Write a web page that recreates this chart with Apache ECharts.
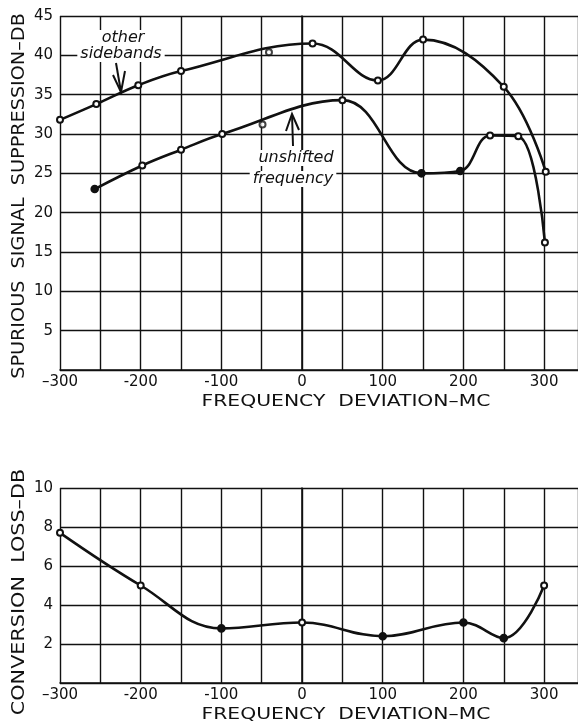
<!DOCTYPE html>
<html>
<head>
<meta charset="utf-8">
<script src="https://cdn.jsdelivr.net/npm/echarts@6/dist/echarts.min.js"></script>
<style>
  html, body { margin: 0; padding: 0; background: #fff; }
  #chart { width: 578px; height: 724px; }
</style>
</head>
<body>
<div id="chart"></div>
<script>
// spurious signal suppression, "other sidebands" curve
const sidebandFreq = [-300, -255, -203, -150, 13, 94, 150, 250, 302];
const sidebandDb = [31.8, 33.8, 36.2, 38.0, 41.5, 36.8, 42.0, 36.0, 25.2];
// "unshifted frequency" curve
const unshiftedFreq = [-257, -198, -150, -99, 50, 148, 196, 233, 268, 301];
const unshiftedDb = [23.0, 26.0, 28.0, 30.0, 34.3, 25.0, 25.3, 29.8, 29.7, 16.2];
// measured points lying off the drawn curves
const strayFreq = [-41, -49];
const strayDb = [40.4, 31.2];
// conversion loss
const lossFreq = [-300, -200, -100, 0, 100, 200, 250, 300];
const lossDb = [7.7, 5.0, 2.8, 3.1, 2.4, 3.1, 2.3, 5.0];

const freqTicks = [-300, -200, -100, 0, 100, 200, 300];
const freqTickText = ['\u2013300', '-200', '-100', '0', '100', '200', '300'];
const suppTicks = [5, 10, 15, 20, 25, 30, 35, 40, 45];
const lossTicks = [2, 4, 6, 8, 10];

const ink = '#111';
const font = 'DejaVu Sans';

const pairs = (xs, ys) => xs.map((x, i) => [x, ys[i]]);

// which measured points are drawn as solid dots
const filledUnshifted = [0, 5, 6];
const filledLoss = [2, 4, 5, 6];
const markData = (xs, ys, filled) => pairs(xs, ys).map((p, i) =>
  filled.indexOf(i) >= 0 ? { value: p, symbol: 'circle', symbolSize: 7 } : p);

const chart = echarts.init(document.getElementById('chart'));

function xAxisOf(gridIndex) {
  return {
    type: 'value', gridIndex: gridIndex, min: -300, max: 342, interval: 50,
    axisLine: { show: true, onZero: false, lineStyle: { color: ink, width: 1.6 } },
    axisTick: { show: false },
    splitLine: { show: true, lineStyle: { color: ink, width: 1.4 } },
    axisLabel: {
      color: ink, fontFamily: font, fontSize: 15, margin: 5,
      showMaxLabel: false,
      formatter: v => {
        const k = freqTicks.indexOf(v);
        return k >= 0 ? freqTickText[k] : '';
      }
    }
  };
}

function yAxisOf(gridIndex, max, interval, ticks) {
  return {
    type: 'value', gridIndex: gridIndex, min: 0, max: max, interval: interval,
    axisLine: { show: true, lineStyle: { color: ink, width: 1.6 } },
    axisTick: { show: false },
    splitLine: { show: true, lineStyle: { color: ink, width: 1.4 } },
    axisLabel: {
      color: ink, fontFamily: font, fontSize: 15, margin: 7,
      formatter: v => ticks.indexOf(v) >= 0 ? String(v) : ''
    }
  };
}

const dotStyle = { color: ink, borderColor: ink, borderWidth: 1.6 };

const curve = (name, xi, data) => ({
  name: name, type: 'line', xAxisIndex: xi, yAxisIndex: xi,
  data: data, smooth: 0.4,
  symbol: 'emptyCircle', symbolSize: 6,
  lineStyle: { color: ink, width: 2.6 },
  itemStyle: dotStyle,
  z: 3
});

const titleText = (text, x, y, size, scale, rotated) => ({
  type: 'text', x: x, y: y, z: 10, scaleX: scale,
  rotation: rotated ? Math.PI / 2 : 0,
  style: { text: text, font: size + 'px "DejaVu Sans"', fill: ink, align: 'center', verticalAlign: 'middle' }
});

const noteText = (text, x, y) => ({
  type: 'text', x: x, y: y, z: 10,
  style: { text: text, font: 'italic 16px "DejaVu Sans"', fill: ink, align: 'center', verticalAlign: 'middle', backgroundColor: '#fff', padding: [0, 3] }
});

const stroke = points => ({
  type: 'polyline', z: 10, shape: { points: points },
  style: { stroke: ink, lineWidth: 2, fill: null }
});

const option = {
  backgroundColor: '#fff',
  animation: false,
  grid: [
    { left: 60, top: 16, width: 518, height: 354 },
    { left: 60, top: 488, width: 518, height: 195 }
  ],
  xAxis: [xAxisOf(0), xAxisOf(1)],
  yAxis: [yAxisOf(0, 45, 5, suppTicks), yAxisOf(1, 10, 2, lossTicks)],
  series: [
    curve('other sidebands', 0, pairs(sidebandFreq, sidebandDb)),
    curve('unshifted frequency', 0, markData(unshiftedFreq, unshiftedDb, filledUnshifted)),
    {
      name: 'off curve', type: 'scatter', xAxisIndex: 0, yAxisIndex: 0,
      data: pairs(strayFreq, strayDb),
      symbol: 'emptyCircle', symbolSize: 6,
      itemStyle: dotStyle,
      z: 3
    },
    curve('conversion loss', 1, markData(lossFreq, lossDb, filledLoss))
  ],
  graphic: [
    titleText('FREQUENCY  DEVIATION\u2013MC', 346, 402, 16, 1.27, false),
    titleText('FREQUENCY  DEVIATION\u2013MC', 346, 715, 16, 1.27, false),
    titleText('SPURIOUS  SIGNAL  SUPPRESSION\u2013DB', 20, 196, 17, 1.13, true),
    titleText('CONVERSION  LOSS\u2013DB', 20, 592, 17, 1.22, true),
    noteText('other', 123, 38),
    noteText('sidebands', 121, 54),
    noteText('unshifted', 296, 158),
    noteText('frequency', 293, 179),
    stroke([[116, 63], [121, 92]]),
    stroke([[113, 75], [121, 92], [125, 71]]),
    stroke([[293, 146], [292, 114]]),
    stroke([[286, 131], [292, 114], [299, 130]])
  ]
};

chart.setOption(option);
</script>
</body>
</html>
